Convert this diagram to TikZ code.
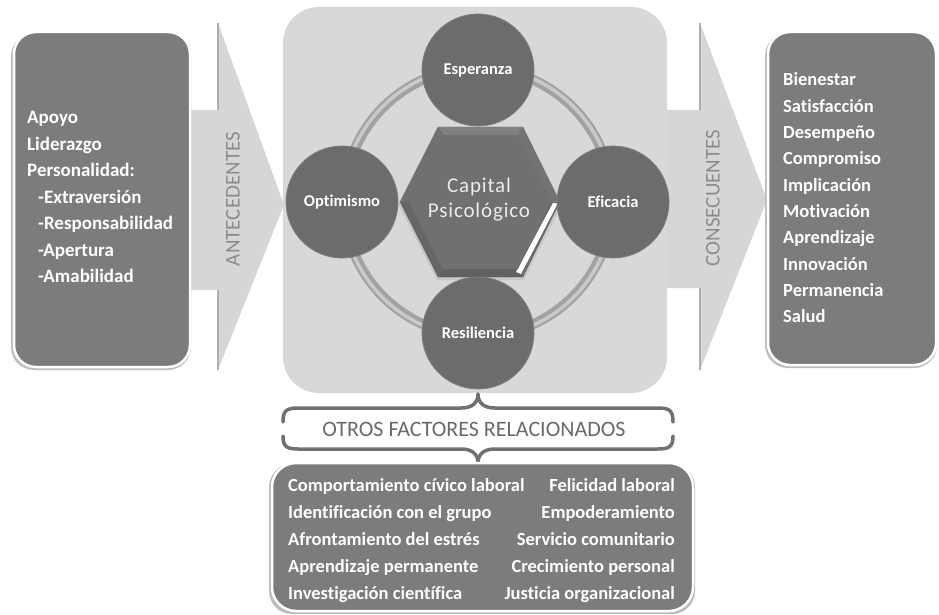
\documentclass[tikz,border=0pt]{standalone}
\usepackage{fontspec}
\setmainfont{Carlito}[Ligatures=NoCommon]
\definecolor{boxdark}{HTML}{7C7C7F}
\definecolor{panel}{HTML}{D8D8D8}
\definecolor{arrowfill}{HTML}{D6D6D8}
\definecolor{arrowedge}{HTML}{AEAEB0}
\definecolor{circfill}{HTML}{6C6C6C}
\definecolor{circedge}{HTML}{7E7E7E}
\definecolor{bracec}{HTML}{707070}
\definecolor{labelgray}{HTML}{6A6A6A}
\definecolor{arrowtext}{HTML}{8C8C8E}
\definecolor{shadowc}{HTML}{BDBDBD}
\definecolor{ringdark}{HTML}{A2A2A2}
\definecolor{ringlight}{HTML}{C9C9C9}
\tikzset{
  listtext/.style={font=\fontsize{18.5}{22}\selectfont\bfseries, text=white, inner sep=0pt},
  lefttext/.style={font=\fontsize{19}{22}\selectfont\bfseries, text=white, inner sep=0pt},
  circ/.style={circle, fill=circfill, draw=circedge, line width=0.8pt, minimum size=112pt, inner sep=0pt,
               font=\fontsize{16.5}{18}\selectfont\bfseries, text=white},
  darkbox/.style={fill=boxdark, draw=white, line width=2.5pt, rounded corners=22pt},
  boxshadow/.style={fill=shadowc, rounded corners=23pt},
  bigarrow/.style={fill=arrowfill},
  arrowlabel/.style={font=\fontsize{21}{24}\selectfont, text=arrowtext, rotate=90, inner sep=0pt},
  bracepath/.style={draw=bracec, line width=3.5pt, line cap=round, line join=round}
}
\begin{document}
\begin{tikzpicture}[x=1pt, y=-1pt]
\useasboundingbox (0,0) rectangle (939,615);
% background
\fill[white] (0,0) rectangle (939,615);

% left arrow
\fill[bigarrow] (186,110) -- (218,110) -- (218,23) -- (284,205) -- (218,370) -- (218,290) -- (186,290) -- cycle;
\draw[arrowedge, line width=1.6pt] (218,23) -- (218,110) (218,290) -- (218,370);
% right arrow
\fill[bigarrow] (660,110) -- (700,110) -- (700,23) -- (767,200) -- (700,370) -- (700,288) -- (660,288) -- cycle;
\draw[arrowedge, line width=1.6pt] (700,23) -- (700,110) (700,288) -- (700,370);

\node[arrowlabel] (ante) at (233,199) {ANTECEDENTES};
\node[arrowlabel] (cons) at (713,198) {CONSECUENTES};

% central panel
\fill[panel, rounded corners=36pt] (283,7) rectangle (667,393);

% ring
\draw[ringdark, line width=10pt] (478,202) circle[radius=134];
\draw[ringlight, line width=3.5pt] (478,202) circle[radius=135];

% hexagon
\coordinate (h1) at (438,127); \coordinate (h2) at (523,127); \coordinate (h3) at (560,202);
\coordinate (h4) at (523,277); \coordinate (h5) at (438,277); \coordinate (h6) at (400,202);
\coordinate (i1) at (443,135); \coordinate (i2) at (518,135); \coordinate (i3) at (551,202);
\coordinate (i4) at (518,269); \coordinate (i5) at (443,269); \coordinate (i6) at (409,202);
\fill[black!22] (437,129) -- (524,129) -- (562,204) -- (524,280) -- (437,280) -- (398,204) -- cycle;
\fill[black!52] (h1) -- (h2) -- (h3) -- (h4) -- (h5) -- (h6) -- cycle;
\fill[black!50] (h1) -- (h2) -- (i2) -- (i1) -- cycle;
\fill[black!55] (h2) -- (h3) -- (i3) -- (i2) -- cycle;
\fill[black!62] (h4) -- (h5) -- (i5) -- (i4) -- cycle;
\fill[black!60] (h5) -- (h6) -- (i6) -- (i5) -- cycle;
\fill[black!56] (h6) -- (h1) -- (i1) -- (i6) -- cycle;
\fill[black!58] (h3) -- (h4) -- (i4) -- (i3) -- cycle;
\fill[white] (558,203) -- (553,203) -- (516,272) -- (521,274) -- cycle;
\fill[black!56] (i1) -- (i2) -- (i3) -- (i4) -- (i5) -- (i6) -- cycle;
\node[font=\fontsize{21}{25}\selectfont\addfontfeatures{LetterSpace=4}, text=white!92!black, align=center, inner sep=0pt] (cap) at (479,200) {Capital\\Psicológico};

% circles
\node[circ] (esp) at (478,70) {Esperanza};
\node[circ] (opt) at (342,202) {Optimismo};
\node[circ] (efi) at (613,202) {Eficacia};
\node[circ] (res) at (478,333) {Resiliencia};

% left box
\fill[boxshadow] (11,33) rectangle (191,370);
\draw[darkbox] (14,32) rectangle (190,367);
\foreach \t/\xx [count=\i from 0] in {Apoyo/27, Liderazgo/27, Personalidad:/27, -Extraversión/38, -Responsabilidad/38, -Apertura/38, -Amabilidad/38}
  \node[lefttext, anchor=base west] (ant\i) at (\xx, {124+26.4*\i}) {\t};

% right box
\fill[boxshadow] (765,33) rectangle (937,368);
\draw[darkbox] (768,32) rectangle (936,365);
\foreach \t [count=\i from 0] in {Bienestar, Satisfacción, Desempeño, Compromiso, Implicación, Motivación, Aprendizaje, Innovación, Permanencia, Salud}
  \node[listtext, anchor=base west] (con\i) at (783, {86+26.3*\i}) {\t};

% braces
\draw[bracepath] (283,422) .. controls (283,411) and (286,408) .. (298,408) -- (461,408)
   .. controls (472,408) and (478,403) .. (478,394) .. controls (478,403) and (484,408) .. (495,408)
   -- (658,408) .. controls (670,408) and (673,411) .. (673,422);
\draw[bracepath] (283,436) .. controls (283,446) and (286,449) .. (298,449) -- (461,449)
   .. controls (472,449) and (478,454) .. (478,463) .. controls (478,454) and (484,449) .. (495,449)
   -- (658,449) .. controls (670,449) and (673,446) .. (673,436);
\node[font=\fontsize{22}{24}\selectfont, text=labelgray, inner sep=0pt] (otros) at (474,429) {OTROS FACTORES RELACIONADOS};

% bottom box
\fill[boxshadow] (269,464) rectangle (695,614);
\draw[darkbox, rounded corners=24pt] (272,463) rectangle (693,611);
\foreach \l/\r [count=\i from 0] in {Comportamiento cívico laboral/Felicidad laboral,
    Identificación con el grupo/Empoderamiento,
    Afrontamiento del estrés/Servicio comunitario,
    Aprendizaje permanente/Crecimiento personal,
    Investigación científica/Justicia organizacional}{
  \node[listtext, anchor=base west] (bl\i) at (288, {491+27.1*\i}) {\l};
  \node[listtext, anchor=base east] (br\i) at (675, {491+27.1*\i}) {\r};
}
\end{tikzpicture}
\end{document}
